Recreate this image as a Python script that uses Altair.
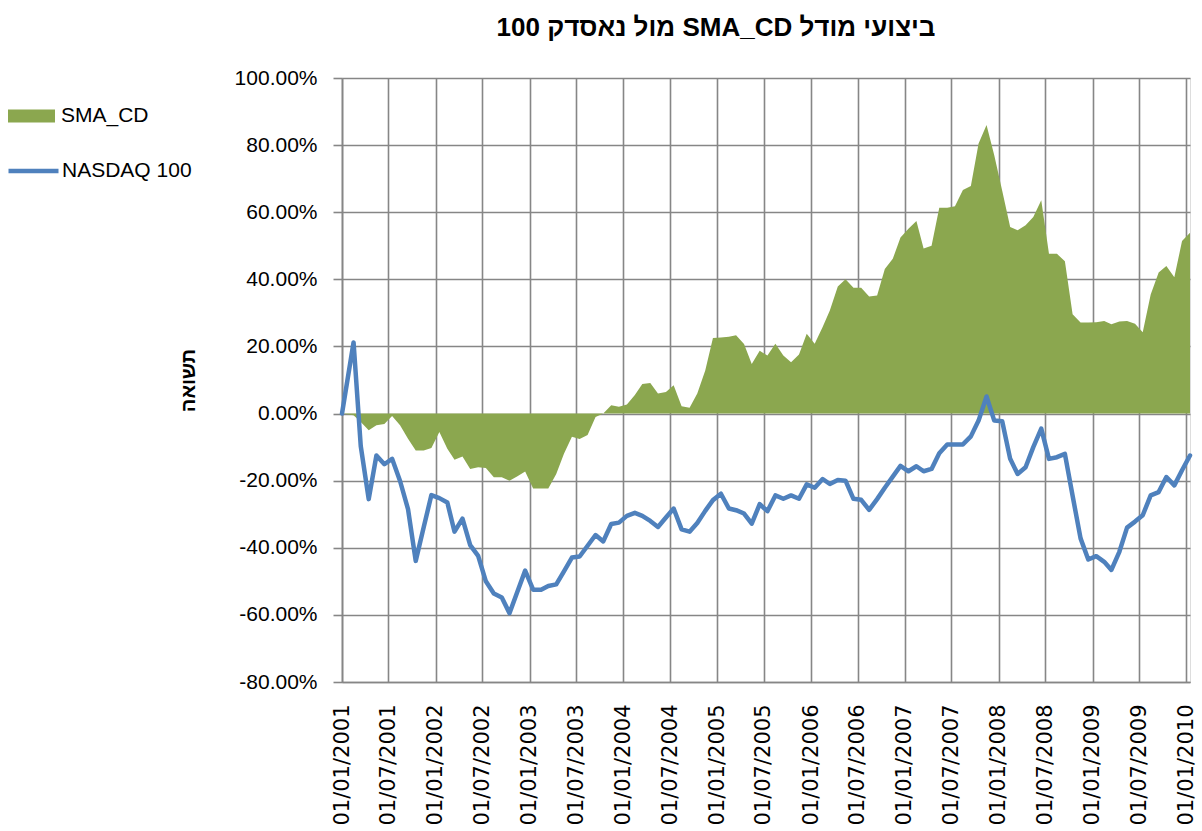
import altair as alt
import pandas as pd

# Monthly returns (%)
sma_cd = [
    0.0, -0.5, -2.5, -5.0, -3.5, -3.1, -0.7, -3.5, -7.5, -11.0,
    -11.0, -10.3, -5.5, -10.5, -13.8, -12.8, -16.5, -16.0, -16.2, -19.0,
    -19.0, -20.0, -18.7, -17.3, -22.3, -22.3, -22.3, -18.0, -12.0, -6.9,
    -7.6, -6.4, -1.0, 0.0, 2.5, 2.0, 2.7, 5.5, 8.8, 9.1,
    6.0, 6.4, 8.4, 2.2, 1.7, 6.0, 12.8, 22.5, 22.7, 22.9,
    23.3, 20.7, 14.8, 18.7, 17.3, 20.8, 17.3, 15.3, 17.6, 23.8,
    20.8, 25.8, 30.7, 37.9, 40.0, 37.5, 37.5, 34.9, 35.2, 43.1,
    46.1, 52.5, 55.1, 57.4, 49.2, 50.0, 61.3, 61.3, 61.8, 66.6,
    67.8, 80.5, 86.0, 77.0, 66.4, 55.6, 54.6, 56.1, 58.6, 63.6,
    47.6, 47.6, 45.4, 29.6, 27.1, 27.1, 27.2, 27.6, 26.6, 27.4,
    27.6, 26.8, 24.2, 35.5, 42.0, 44.0, 40.6, 51.4, 53.9,
]
nasdaq_100 = [
    0.0, 21.2, -9.7, -25.5, -12.5, -15.1, -13.5, -20.1, -28.5, -43.9,
    -33.9, -24.3, -25.2, -26.5, -35.2, -31.3, -39.2, -42.4, -50.0, -53.6,
    -54.8, -59.5, -53.0, -46.8, -52.5, -52.5, -51.4, -50.9, -47.0, -42.9,
    -42.6, -39.4, -36.2, -38.1, -32.9, -32.5, -30.5, -29.6, -30.5, -32.0,
    -33.8, -31.0, -28.3, -34.5, -35.2, -32.6, -29.0, -25.8, -23.9, -28.3,
    -28.8, -29.8, -32.8, -27.0, -29.1, -24.4, -25.4, -24.4, -25.4, -21.1,
    -22.1, -19.5, -21.0, -19.8, -20.0, -25.4, -25.7, -28.7, -25.5, -22.1,
    -18.8, -15.6, -17.2, -15.7, -17.2, -16.5, -11.8, -9.2, -9.2, -9.2,
    -6.8, -2.1, 5.1, -2.1, -2.3, -13.5, -18.0, -16.0, -10.0, -4.5,
    -13.5, -13.0, -12.0, -24.5, -37.2, -43.5, -42.5, -44.2, -46.6, -41.2,
    -34.0, -32.2, -30.3, -24.4, -23.4, -18.9, -21.4, -16.9, -12.5,
]
dates = ["2001-01-01"] + [
    f"{2001 + k // 12}-{k % 12 + 1:02d}-15" for k in range(1, 109)
]
tick_months = [(2001 + k // 2, 1 if k % 2 == 0 else 7) for k in range(19)]
y_ticks = [-0.8, -0.6, -0.4, -0.2, 0.0, 0.2, 0.4, 0.6, 0.8, 1.0]

series_names = ["SMA_CD", "NASDAQ 100"]
title_text = "ביצועי מודל SMA_CD מול נאסדק 100"
y_title = "תשואה"

GREEN = "#8BA74F"
BLUE = "#4F81BD"
GRID = "#868686"

df = pd.DataFrame({
    "date": dates,
    "sma": [v / 100 for v in sma_cd],
    "nasdaq": [v / 100 for v in nasdaq_100],
    "sma_name": series_names[0],
    "nas_name": series_names[1],
})

x_enc = alt.X(
    "date:T",
    title=None,
    scale=alt.Scale(
        type="utc",
        nice=False,
        domain=[alt.DateTime(year=2001, month=1, date=1, utc=True),
                alt.DateTime(year=2010, month=1, date=15, utc=True)],
    ),
    axis=alt.Axis(
        values=[alt.DateTime(year=y, month=m, date=1, utc=True) for y, m in tick_months],
        labelExpr="utcFormat(datum.value, '%d/%m/%Y')",
        labelAngle=270,
        labelFont="DejaVu Sans",
        labelFontSize=21,
        labelColor="black",
        labelPadding=22,
        labelOverlap=False,
        labelFlush=False,
        labelBound=False,
        tickSize=0,
        grid=True,
        gridColor=GRID,
        gridWidth=1.6,
        domainColor=GRID,
        domainWidth=1.6,
    ),
)

y_axis = alt.Axis(
    values=y_ticks,
    labelExpr="replace(format(datum.value, '.2%'), '\u2212', '-')",
    labelFont="Liberation Sans",
    labelFontSize=21,
    labelColor="black",
    labelPadding=16,
    tickSize=9,
    tickColor=GRID,
    tickWidth=1.6,
    grid=True,
    gridColor=GRID,
    gridWidth=1.6,
    domainColor=GRID,
    domainWidth=1.6,
    titleFont="Liberation Sans",
    titleFontSize=20,
    titleFontWeight="bold",
    titleColor="black",
    titlePadding=36,
)
y_scale = alt.Scale(domain=[-0.8, 1.0], nice=False, zero=False)

base = alt.Chart(df)

area = base.mark_area(opacity=1, interpolate="linear").encode(
    x=x_enc,
    y=alt.Y("sma:Q", title=y_title, scale=y_scale, axis=y_axis, stack=None),
    fill=alt.Fill(
        "sma_name:N",
        scale=alt.Scale(domain=[series_names[0]], range=[GREEN]),
        legend=alt.Legend(
            title=None,
            orient="none",
            legendX=-334,
            legendY=14.5,
            padding=0,
            symbolType="M-1,-0.277L1,-0.277L1,0.277L-1,0.277Z",
            symbolSize=2209,
            symbolStrokeWidth=0,
            labelFont="Liberation Sans",
            labelFontSize=21,
            labelColor="black",
            labelOffset=6,
            labelLimit=300,
        ),
    ),
)

line = base.mark_line(strokeWidth=4.5, strokeJoin="round", strokeCap="round").encode(
    x=x_enc,
    y=alt.Y("nasdaq:Q", title=y_title, scale=y_scale, axis=y_axis),
    stroke=alt.Stroke(
        "nas_name:N",
        scale=alt.Scale(domain=[series_names[1]], range=[BLUE]),
        legend=alt.Legend(
            title=None,
            orient="none",
            legendX=-336,
            legendY=65.5,
            padding=0,
            symbolType="M-1,0L1,0",
            symbolSize=2500,
            symbolStrokeWidth=4.5,
            symbolFillColor="transparent",
            labelFont="Liberation Sans",
            labelFontSize=21,
            labelColor="black",
            labelOffset=1,
            labelLimit=300,
        ),
    ),
)

chart = alt.layer(area, line).properties(
    width=848,
    height=604,
    autosize="none",
    padding={"left": 342, "top": 78, "right": 12, "bottom": 149},
    title=alt.Title(
        text="\u202b" + title_text + "\u202c",
        font="Liberation Sans",
        fontSize=26,
        fontWeight="bold",
        color="black",
        anchor="middle",
        dx=-50,
        offset=26,
    ),
).configure_view(stroke=None).configure(background="white")

chart.save("out.html", embed_options={"renderer": "svg", "actions": False})
